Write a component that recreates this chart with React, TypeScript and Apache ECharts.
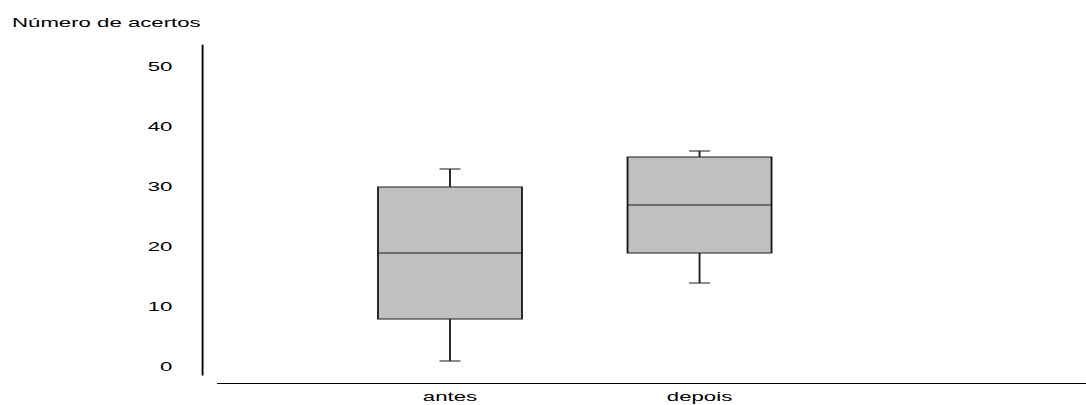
import React, { useEffect, useRef } from "react";
import * as echarts from "echarts";

// ---- data ----
const categories = ["antes", "depois"];
const mins = [1, 14];
const q1s = [8, 19];
const medians = [19, 27];
const q3s = [30, 35];
const maxs = [33, 36];
const yTickValues = [0, 10, 20, 30, 40, 50];
const yTitle = "Número de acertos";

// ---- layout (the reference picture is horizontally stretched) ----
const S = 1.85; // horizontal stretch
const W = 1086 / S;
const H = 405;
const BOX_W = 144 / S;
const CAP_W = 21 / S;
const FONT = "'Liberation Sans', Arial, sans-serif";

export default function App() {
  const ref = useRef<HTMLDivElement>(null);
  useEffect(() => {
    if (!ref.current) return;
    const chart = echarts.init(ref.current, undefined, { renderer: "svg" });
    const data = categories.map((_, i) => [i, mins[i], q1s[i], medians[i], q3s[i], maxs[i]]);
    const stroke = "#1a1a1a";
    chart.setOption({
      animation: false,
      backgroundColor: "#ffffff",
      title: {
        text: yTitle,
        left: 6.5,
        top: 17,
        padding: 0,
        textStyle: { fontSize: 12, fontWeight: "normal", color: "#000", fontFamily: FONT },
      },
      grid: { left: 175.8, right: W - 175.8 - 269.8, top: 45, bottom: 30 },
      xAxis: {
        type: "category",
        data: categories,
        axisLine: { show: false },
        axisTick: { show: false },
        splitLine: { show: false },
        axisLabel: { margin: 16, color: "#000", fontSize: 12, fontFamily: FONT },
      },
      yAxis: {
        type: "value",
        min: -1.333,
        max: 53.667,
        offset: 66.6,
        axisLine: { show: true, lineStyle: { color: "#000", width: 1 } },
        axisTick: { show: false },
        splitLine: { show: false },
        axisLabel: {
          customValues: yTickValues,
          margin: 16,
          color: "#000",
          fontSize: 12,
          fontFamily: FONT,
        },
      },
      graphic: [
        {
          type: "line",
          shape: { x1: 217 / S, y1: 383.5, x2: W, y2: 383.5 },
          style: { stroke: "#000", lineWidth: 1 },
          silent: true,
        },
      ],
      series: [
        {
          type: "custom",
          data,
          encode: { x: 0, y: [1, 2, 3, 4, 5] },
          renderItem: (params: any, api: any) => {
            const x = api.value(0);
            const pMin = api.coord([x, api.value(1)]);
            const pQ1 = api.coord([x, api.value(2)]);
            const pMed = api.coord([x, api.value(3)]);
            const pQ3 = api.coord([x, api.value(4)]);
            const pMax = api.coord([x, api.value(5)]);
            const cx = pMin[0];
            const hb = BOX_W / 2;
            const hc = CAP_W / 2;
            const ls = { stroke, lineWidth: 1, fill: "none" };
            return {
              type: "group",
              children: [
                { type: "line", shape: { x1: cx, y1: pMin[1], x2: cx, y2: pQ1[1] }, style: ls },
                { type: "line", shape: { x1: cx, y1: pQ3[1], x2: cx, y2: pMax[1] }, style: ls },
                { type: "line", shape: { x1: cx - hc, y1: pMin[1], x2: cx + hc, y2: pMin[1] }, style: ls },
                { type: "line", shape: { x1: cx - hc, y1: pMax[1], x2: cx + hc, y2: pMax[1] }, style: ls },
                {
                  type: "rect",
                  shape: { x: cx - hb, y: pQ3[1], width: BOX_W, height: pQ1[1] - pQ3[1] },
                  style: { fill: "#c0c0c0", stroke, lineWidth: 1 },
                },
                { type: "line", shape: { x1: cx - hb, y1: pMed[1], x2: cx + hb, y2: pMed[1] }, style: ls },
              ],
            };
          },
        },
      ],
    });
    return () => chart.dispose();
  }, []);
  return (
    <div
      ref={ref}
      style={{
        position: "fixed",
        left: 0,
        top: 0,
        width: W,
        height: H,
        transform: `scaleX(${S})`,
        transformOrigin: "0 0",
      }}
    />
  );
}
